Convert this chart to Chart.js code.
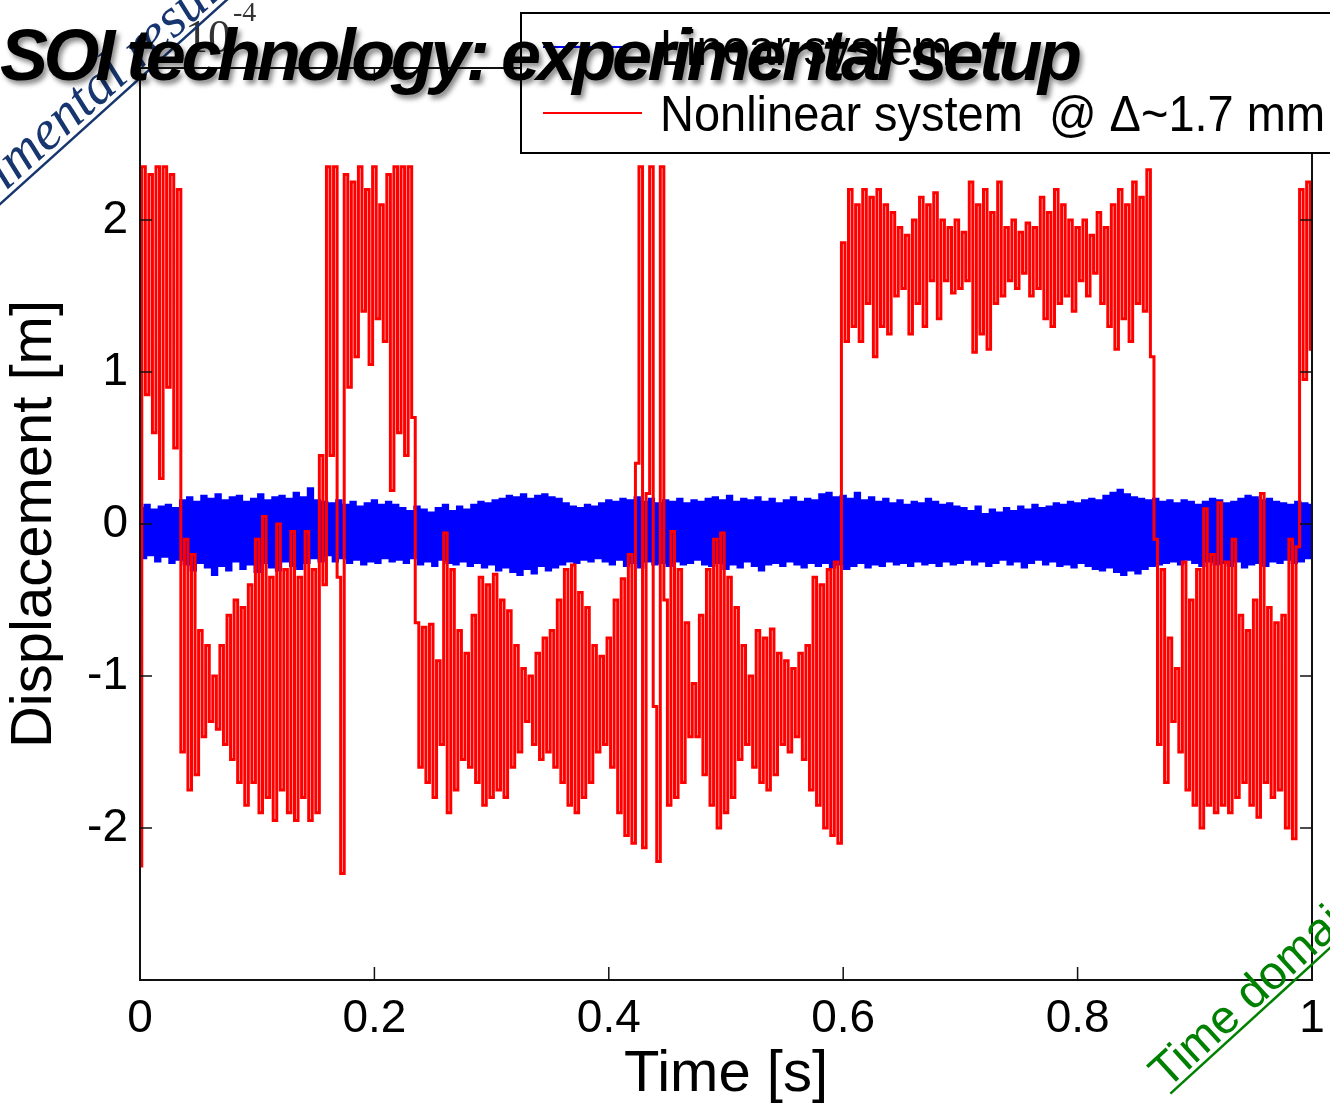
<!DOCTYPE html>
<html>
<head>
<meta charset="utf-8">
<title>Displacement vs time</title>
<script src="https://cdn.jsdelivr.net/npm/chart.js@4.4.1/dist/chart.umd.min.js"></script>
<style>
  html, body { margin: 0; padding: 0; background: #fff; overflow: hidden; }
  #wrap { position: relative; width: 1330px; height: 1105px; overflow: hidden; }
  #chart { position: absolute; left: 0; top: 0; }
  #over { position: absolute; left: 0; top: 0; pointer-events: none; }
  .leg { font-family: 'Liberation Sans', Arial, sans-serif; font-size: 50px; fill: #000; }
</style>
</head>
<body>
<div id="wrap">
  <canvas id="chart" width="1330" height="1105"></canvas>
  <svg id="over" width="1330" height="1105">
    <defs>
      <filter id="shadow" x="-5%" y="-30%" width="110%" height="170%">
        <feDropShadow dx="3" dy="4" stdDeviation="2.5" flood-color="#000" flood-opacity="0.45"/>
      </filter>
    </defs>

    <!-- legend box -->
    <rect x="521" y="13" width="840" height="140" fill="#fff" stroke="#000" stroke-width="2"/>
    <line x1="543" y1="47" x2="642" y2="47" stroke="#0000ff" stroke-width="2"/>
    <text x="660" y="65" class="leg" textLength="292" lengthAdjust="spacingAndGlyphs">Linear system</text>
    <line x1="543" y1="113" x2="642" y2="113" stroke="#ff0000" stroke-width="2"/>
    <text x="660" y="131" class="leg" textLength="665" lengthAdjust="spacingAndGlyphs" xml:space="preserve">Nonlinear system  @ Δ~1.7 mm</text>

    <!-- axis multiplier -->
    <text x="185" y="52" font-family="'Liberation Serif', serif" font-size="46" fill="#333">10</text>
    <text x="233" y="21" font-family="'Liberation Serif', serif" font-size="28" fill="#333">-4</text>

    <!-- slide decorations -->
    <g transform="translate(-108,265) rotate(-42)">
      <text x="0" y="21" font-family="'Liberation Serif', serif" font-style="italic" font-size="56" fill="#17366f">Experimental results</text>
      <line x1="0" y1="27" x2="700" y2="27" stroke="#17366f" stroke-width="2.5"/>
    </g>
    <g transform="translate(1167,1090) rotate(-42.4)">
      <text x="0" y="0" font-family="'Liberation Sans', Arial, sans-serif" font-size="47" fill="#008000">Time domain</text>
      <line x1="0" y1="5" x2="400" y2="5" stroke="#008000" stroke-width="2.5"/>
    </g>

    <text x="0" y="80" font-family="'Liberation Sans', Arial, sans-serif" font-weight="bold" font-style="italic"
          font-size="72" fill="#000" textLength="1082" lengthAdjust="spacing" filter="url(#shadow)">SOI technology: experimental setup</text>
  </svg>
</div>

<script>
// ── Data (displacement in units of 1e-4 m, sampled evenly over the time span) ──
const tStart = 0;
const tEnd = 1;

const nonlinearDisp = [
  -2.25, 2.35, 0.85, 2.3, 0.6, 2.35, 0.3, 2.35, 0.9, 2.3,
  0.5, 2.2, -1.5, -0.1, -1.75, -0.2, -1.65, -0.7, -1.4, -0.8,
  -1.3, -1.0, -1.35, -0.8, -1.45, -0.6, -1.55, -0.5, -1.7, -0.55,
  -1.85, -0.4, -1.7, -0.1, -1.9, 0.05, -1.8, -0.35, -1.95, 0.0,
  -1.75, -0.3, -1.9, -0.05, -1.95, -0.35, -1.8, -0.05, -1.95, -0.3,
  -1.9, 0.45, -0.4, 2.35, 0.45, 2.35, -0.35, -2.3, 2.3, 0.9,
  2.25, 1.1, 2.35, 1.4, 2.2, 1.05, 2.35, 1.35, 2.1, 1.2,
  2.3, 0.22, 2.35, 0.6, 2.35, 0.45, 2.35, 0.7, -0.65, -1.6,
  -0.68, -1.7, -0.66, -1.8, -0.9, -1.45, -0.06, -1.9, -0.3, -1.75,
  -0.7, -1.55, -0.85, -1.6, -0.6, -1.7, -0.35, -1.85, -0.4, -1.8,
  -0.33, -1.75, -0.5, -1.8, -0.57, -1.6, -0.8, -1.5, -0.95, -1.3,
  -1.0, -1.45, -0.85, -1.55, -0.75, -1.5, -0.7, -1.6, -0.5, -1.7,
  -0.3, -1.85, -0.27, -1.9, -0.45, -1.8, -0.55, -1.7, -0.8, -1.5,
  -0.87, -1.45, -0.75, -1.6, -0.5, -1.9, -0.36, -2.05, -0.2, -2.1,
  0.4, 2.35, -2.13, 0.2, 2.35, -1.2, -2.22, 2.35, -0.5, -1.85,
  -0.05, -1.8, -0.3, -1.7, -0.65, -1.4, -1.05, -1.4, -0.6, -1.65,
  -0.3, -1.85, -0.1, -2.0, -0.06, -1.9, -0.35, -1.8, -0.55, -1.55,
  -0.8, -1.45, -1.0, -1.6, -0.7, -1.7, -0.75, -1.75, -0.69, -1.65,
  -0.85, -1.45, -0.9, -1.5, -0.95, -1.4, -0.85, -1.55, -0.8, -1.75,
  -0.35, -1.85, -0.4, -2.0, -0.3, -2.05, -0.25, -2.1, 1.85, 1.2,
  2.2, 1.3, 2.1, 1.2, 2.2, 1.45, 2.15, 1.1, 2.2, 1.3,
  2.1, 1.25, 2.05, 1.5, 1.95, 1.55, 1.9, 1.25, 2.0, 1.45,
  2.15, 1.3, 2.1, 1.6, 2.18, 1.35, 2.0, 1.6, 1.95, 1.52,
  2.0, 1.55, 1.92, 1.6, 2.25, 1.13, 2.1, 1.25, 2.2, 1.15,
  2.05, 1.45, 2.25, 1.5, 1.95, 1.6, 2.0, 1.55, 1.92, 1.65,
  1.98, 1.5, 1.95, 1.55, 2.15, 1.35, 2.05, 1.3, 2.2, 1.45,
  2.1, 1.5, 2.0, 1.4, 1.95, 1.6, 2.0, 1.5, 1.9, 1.65,
  2.05, 1.45, 1.95, 1.3, 2.1, 1.15, 2.2, 1.35, 2.1, 1.2,
  2.25, 1.45, 2.15, 1.4, 2.33, 1.1, -0.1, -1.45, -0.3, -1.7,
  -0.75, -1.3, -0.95, -1.5, -0.25, -1.75, -0.5, -1.85, -0.3, -2.0,
  0.1, -1.85, -0.2, -1.9, 0.14, -1.85, -0.25, -1.9, -0.1, -1.8,
  -0.6, -1.7, -0.7, -1.85, -0.5, -1.93, 0.2, -1.7, -0.55, -1.8,
  -0.65, -1.75, -0.6, -2.0, -0.1, -2.07, -0.15, 2.2, 0.95, 2.25,
  1.15
];

const linearDisp = [
  0.10, -0.22, 0.12, -0.2, 0.09, -0.24, 0.11, -0.21, 0.12, -0.25,
  0.1, -0.23, 0.15, -0.26, 0.17, -0.3, 0.14, -0.25, 0.18, -0.28,
  0.16, -0.33, 0.19, -0.27, 0.15, -0.3, 0.17, -0.24, 0.18, -0.29,
  0.14, -0.26, 0.16, -0.31, 0.19, -0.25, 0.15, -0.28, 0.17, -0.3,
  0.18, -0.24, 0.16, -0.27, 0.2, -0.29, 0.17, -0.25, 0.23, -0.22,
  0.15, -0.24, 0.14, -0.2, 0.13, -0.24, 0.15, -0.22, 0.12, -0.25,
  0.14, -0.23, 0.11, -0.26, 0.13, -0.24, 0.15, -0.25, 0.12, -0.22,
  0.14, -0.24, 0.12, -0.23, 0.1, -0.25, 0.08, -0.22, 0.11, -0.26,
  0.09, -0.24, 0.07, -0.27, 0.1, -0.23, 0.12, -0.25, 0.08, -0.26,
  0.11, -0.24, 0.09, -0.27, 0.12, -0.25, 0.14, -0.28, 0.13, -0.26,
  0.15, -0.3, 0.16, -0.28, 0.18, -0.31, 0.17, -0.33, 0.19, -0.29,
  0.16, -0.32, 0.18, -0.27, 0.19, -0.3, 0.17, -0.28, 0.16, -0.26,
  0.13, -0.24, 0.11, -0.25, 0.1, -0.23, 0.12, -0.24, 0.11, -0.22,
  0.13, -0.24, 0.15, -0.26, 0.14, -0.23, 0.16, -0.27, 0.15, -0.25,
  0.17, -0.28, 0.14, -0.24, 0.16, -0.26, 0.13, -0.25, 0.15, -0.27,
  0.14, -0.24, 0.16, -0.26, 0.13, -0.25, 0.15, -0.23, 0.14, -0.26,
  0.16, -0.27, 0.17, -0.25, 0.15, -0.29, 0.18, -0.26, 0.14, -0.28,
  0.16, -0.24, 0.15, -0.27, 0.17, -0.3, 0.14, -0.26, 0.16, -0.25,
  0.13, -0.27, 0.15, -0.24, 0.17, -0.26, 0.14, -0.28, 0.16, -0.25,
  0.15, -0.27, 0.19, -0.25, 0.2, -0.28, 0.17, -0.26, 0.18, -0.29,
  0.16, -0.27, 0.2, -0.25, 0.15, -0.28, 0.17, -0.26, 0.14, -0.27,
  0.16, -0.24, 0.13, -0.26, 0.15, -0.25, 0.12, -0.27, 0.14, -0.24,
  0.13, -0.26, 0.16, -0.25, 0.14, -0.27, 0.12, -0.24, 0.13, -0.26,
  0.11, -0.25, 0.1, -0.23, 0.08, -0.26, 0.11, -0.24, 0.06, -0.27,
  0.09, -0.25, 0.07, -0.23, 0.1, -0.26, 0.08, -0.24, 0.11, -0.28,
  0.09, -0.25, 0.12, -0.23, 0.1, -0.26, 0.11, -0.24, 0.13, -0.27,
  0.12, -0.26, 0.14, -0.28, 0.13, -0.25, 0.15, -0.27, 0.16, -0.29,
  0.15, -0.3, 0.18, -0.28, 0.2, -0.31, 0.22, -0.33, 0.19, -0.3,
  0.17, -0.32, 0.16, -0.29, 0.15, -0.27, 0.16, -0.26, 0.14, -0.25,
  0.15, -0.24, 0.13, -0.26, 0.15, -0.23, 0.14, -0.25, 0.12, -0.27,
  0.14, -0.24, 0.16, -0.26, 0.15, -0.25, 0.13, -0.27, 0.14, -0.24,
  0.16, -0.28, 0.18, -0.26, 0.17, -0.25, 0.15, -0.27, 0.16, -0.24,
  0.14, -0.25, 0.13, -0.23, 0.12, -0.25, 0.14, -0.24, 0.13, -0.22,
  0.12
];

const xTickStep = 0.2;
const yTickStep = 1;
const yMin = -3;
const yMax = 3;

// ── Helpers ──────────────────────────────────────────────────
function toPoints(vals) {
  const dt = (tEnd - tStart) / (vals.length - 1);
  return vals.map((v, i) => ({ x: tStart + i * dt, y: v }));
}

// MATLAB style box with inward tick marks on all four sides
const matlabFrame = {
  id: 'matlabFrame',
  afterDatasetsDraw(chart) {
    const { ctx, chartArea: a, scales: { x, y } } = chart;
    ctx.save();
    ctx.strokeStyle = '#111';
    ctx.lineWidth = 2;
    ctx.strokeRect(a.left, a.top, a.right - a.left, a.bottom - a.top);
    ctx.lineWidth = 1.5;
    ctx.beginPath();
    x.ticks.forEach(t => {
      const px = x.getPixelForValue(t.value);
      ctx.moveTo(px, a.bottom); ctx.lineTo(px, a.bottom - 13);
      ctx.moveTo(px, a.top); ctx.lineTo(px, a.top + 13);
    });
    y.ticks.forEach(t => {
      const py = y.getPixelForValue(t.value);
      ctx.moveTo(a.left, py); ctx.lineTo(a.left + 12, py);
      ctx.moveTo(a.right, py); ctx.lineTo(a.right - 12, py);
    });
    ctx.stroke();
    ctx.restore();
  }
};

// ── Chart ────────────────────────────────────────────────────
Chart.defaults.font.family = "'Liberation Sans', Arial, Helvetica, sans-serif";
Chart.defaults.color = '#000';

new Chart(document.getElementById('chart'), {
  type: 'line',
  data: {
    datasets: [
      {
        label: 'Nonlinear system @ Δ~1.7 mm',
        data: toPoints(nonlinearDisp),
        borderColor: '#ff0000',
        borderWidth: 3,
        stepped: 'middle',
        pointRadius: 0
      },
      {
        label: 'Linear system',
        data: toPoints(linearDisp),
        borderColor: '#0000ff',
        borderWidth: 3.8,
        stepped: 'middle',
        pointRadius: 0
      }
    ]
  },
  options: {
    responsive: false,
    animation: false,
    devicePixelRatio: 1,
    layout: { padding: { top: 68, right: 18, left: 0, bottom: 0 } },
    plugins: { legend: { display: false }, tooltip: { enabled: false } },
    scales: {
      x: {
        type: 'linear',
        min: tStart,
        max: tEnd,
        ticks: {
          stepSize: xTickStep,
          autoSkip: false,
          maxRotation: 0,
          padding: 12,
          font: { size: 46 },
          callback: v => String(+v.toFixed(1))
        },
        grid: { display: false, drawTicks: false },
        border: { display: false },
        title: { display: true, text: 'Time [s]', font: { size: 58, lineHeight: 1 }, padding: { top: 0, bottom: 1 } },
        afterFit: s => { s.height = 125; s.paddingLeft = 0; s.paddingRight = 0; }
      },
      y: {
        type: 'linear',
        min: yMin,
        max: yMax,
        ticks: {
          stepSize: yTickStep,
          padding: 12,
          font: { size: 46 },
          callback: v => (Math.abs(v) >= 3 ? '' : String(v))
        },
        grid: { display: false, drawTicks: false },
        border: { display: false },
        title: { display: true, text: 'Displacement [m]', font: { size: 58, lineHeight: 1 }, padding: { top: 6, bottom: 0 } },
        afterFit: s => { s.width = 140; s.paddingTop = 0; s.paddingBottom = 0; }
      }
    }
  },
  plugins: [matlabFrame]
});
</script>
</body>
</html>
